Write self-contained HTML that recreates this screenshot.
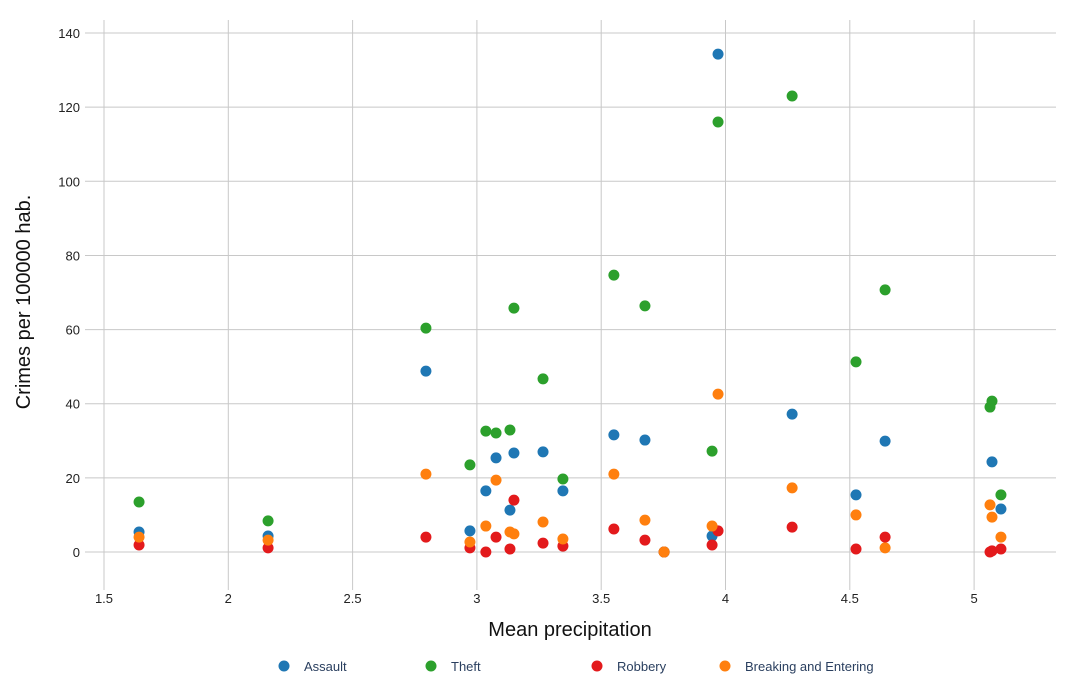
<!DOCTYPE html>
<html><head><meta charset="utf-8"><style>
body{margin:0;background:#fff;font-family:"Liberation Sans",sans-serif;}
svg{display:block}
</style></head><body>
<svg id="chart" width="1078" height="686" xmlns="http://www.w3.org/2000/svg">
<g id="grid"></g>
<g id="ticks" font-size="13" fill="#222"></g>
<g id="marks"></g>
<text x="570" y="636" font-size="20" text-anchor="middle" fill="#111">Mean precipitation</text>
<text transform="translate(30,302) rotate(-90)" font-size="20" text-anchor="middle" fill="#111">Crimes per 100000 hab.</text>
<g id="legend" font-size="13" fill="#2a3f5f"></g>
</svg>
<script>
const xs=[1.641,2.16,2.795,2.972,3.036,3.077,3.133,3.149,3.266,3.346,3.551,3.676,3.753,3.946,3.970,4.268,4.525,4.642,5.064,5.072,5.108];
const assaultX=[1.641,2.16,2.795,2.972,3.036,3.077,3.133,3.149,3.266,3.346,3.551,3.676,3.753,3.946,3.970,4.268,4.525,4.642,5.072,5.108];
const assault=[5.4,4.3,48.8,5.7,16.5,25.4,11.3,26.7,27,16.5,31.6,30.2,0,4.3,134.3,37.2,15.4,29.9,24.3,11.6];
const theft=[13.5,8.4,60.4,23.5,32.6,32.1,32.9,65.8,46.7,19.7,74.7,66.4,0,27.2,116,123,51.3,70.7,39.1,40.7,15.4];
const robbery=[1.9,1.1,4,1.1,0,4,0.8,14,2.4,1.6,6.2,3.2,0,1.9,5.7,6.7,0.8,4,0,0.3,0.8];
const breaking=[4,3.2,21,2.7,7,19.4,5.4,4.9,8.1,3.5,21,8.6,0,7,42.6,17.3,10,1.1,12.7,9.4,4];
const xTicks=[1.5,2,2.5,3,3.5,4,4.5,5];
const yTicks=[0,20,40,60,80,100,120,140];
const seriesNames=["Assault","Theft","Robbery","Breaking and Entering"];
const colors=["#1f77b4","#2ca02c","#e31a1c","#ff7f0e"];
const NS="http://www.w3.org/2000/svg";
const L=85,R=1056,T=20,B=590;
const xS=v=>104+(v-1.5)*248.6;
const yS=v=>552-v*3.707;
function mk(tag,attrs,parent){const e=document.createElementNS(NS,tag);for(const k in attrs)e.setAttribute(k,attrs[k]);parent.appendChild(e);return e;}
const grid=document.getElementById('grid'),ticks=document.getElementById('ticks'),marks=document.getElementById('marks'),legend=document.getElementById('legend');
xTicks.forEach(t=>{
 const l=mk('line',{x1:xS(t),x2:xS(t),y1:T,y2:B,stroke:'#c8c8c8','stroke-width':1},grid);
 
 
 const tx=mk('text',{x:xS(t),y:603,'text-anchor':'middle'},ticks);tx.textContent=String(t);
 
 
});
yTicks.forEach(t=>{
 const l=mk('line',{x1:L,x2:R,y1:yS(t),y2:yS(t),stroke:'#c8c8c8','stroke-width':1},grid);
 
 
 const tx=mk('text',{x:80,y:yS(t)+5,'text-anchor':'end'},ticks);tx.textContent=String(t);
 
 
});
const all=[[assaultX,assault],[xs,theft],[xs,robbery],[xs,breaking]];
all.forEach(([X,Y],si)=>{
 Y.forEach((v,i)=>{
  const c=mk('circle',{cx:xS(X[i]),cy:yS(v),r:5.5,fill:colors[si]},marks);
  
  
 });
});
const lx=[284,431,597,725];
seriesNames.forEach((n,i)=>{
 const g=mk('g',{},legend);
 
 
 mk('circle',{cx:lx[i],cy:666,r:5.5,fill:colors[i]},g);
 const t=mk('text',{x:lx[i]+20,y:671},g);t.textContent=n;
});
</script>
</body></html>
